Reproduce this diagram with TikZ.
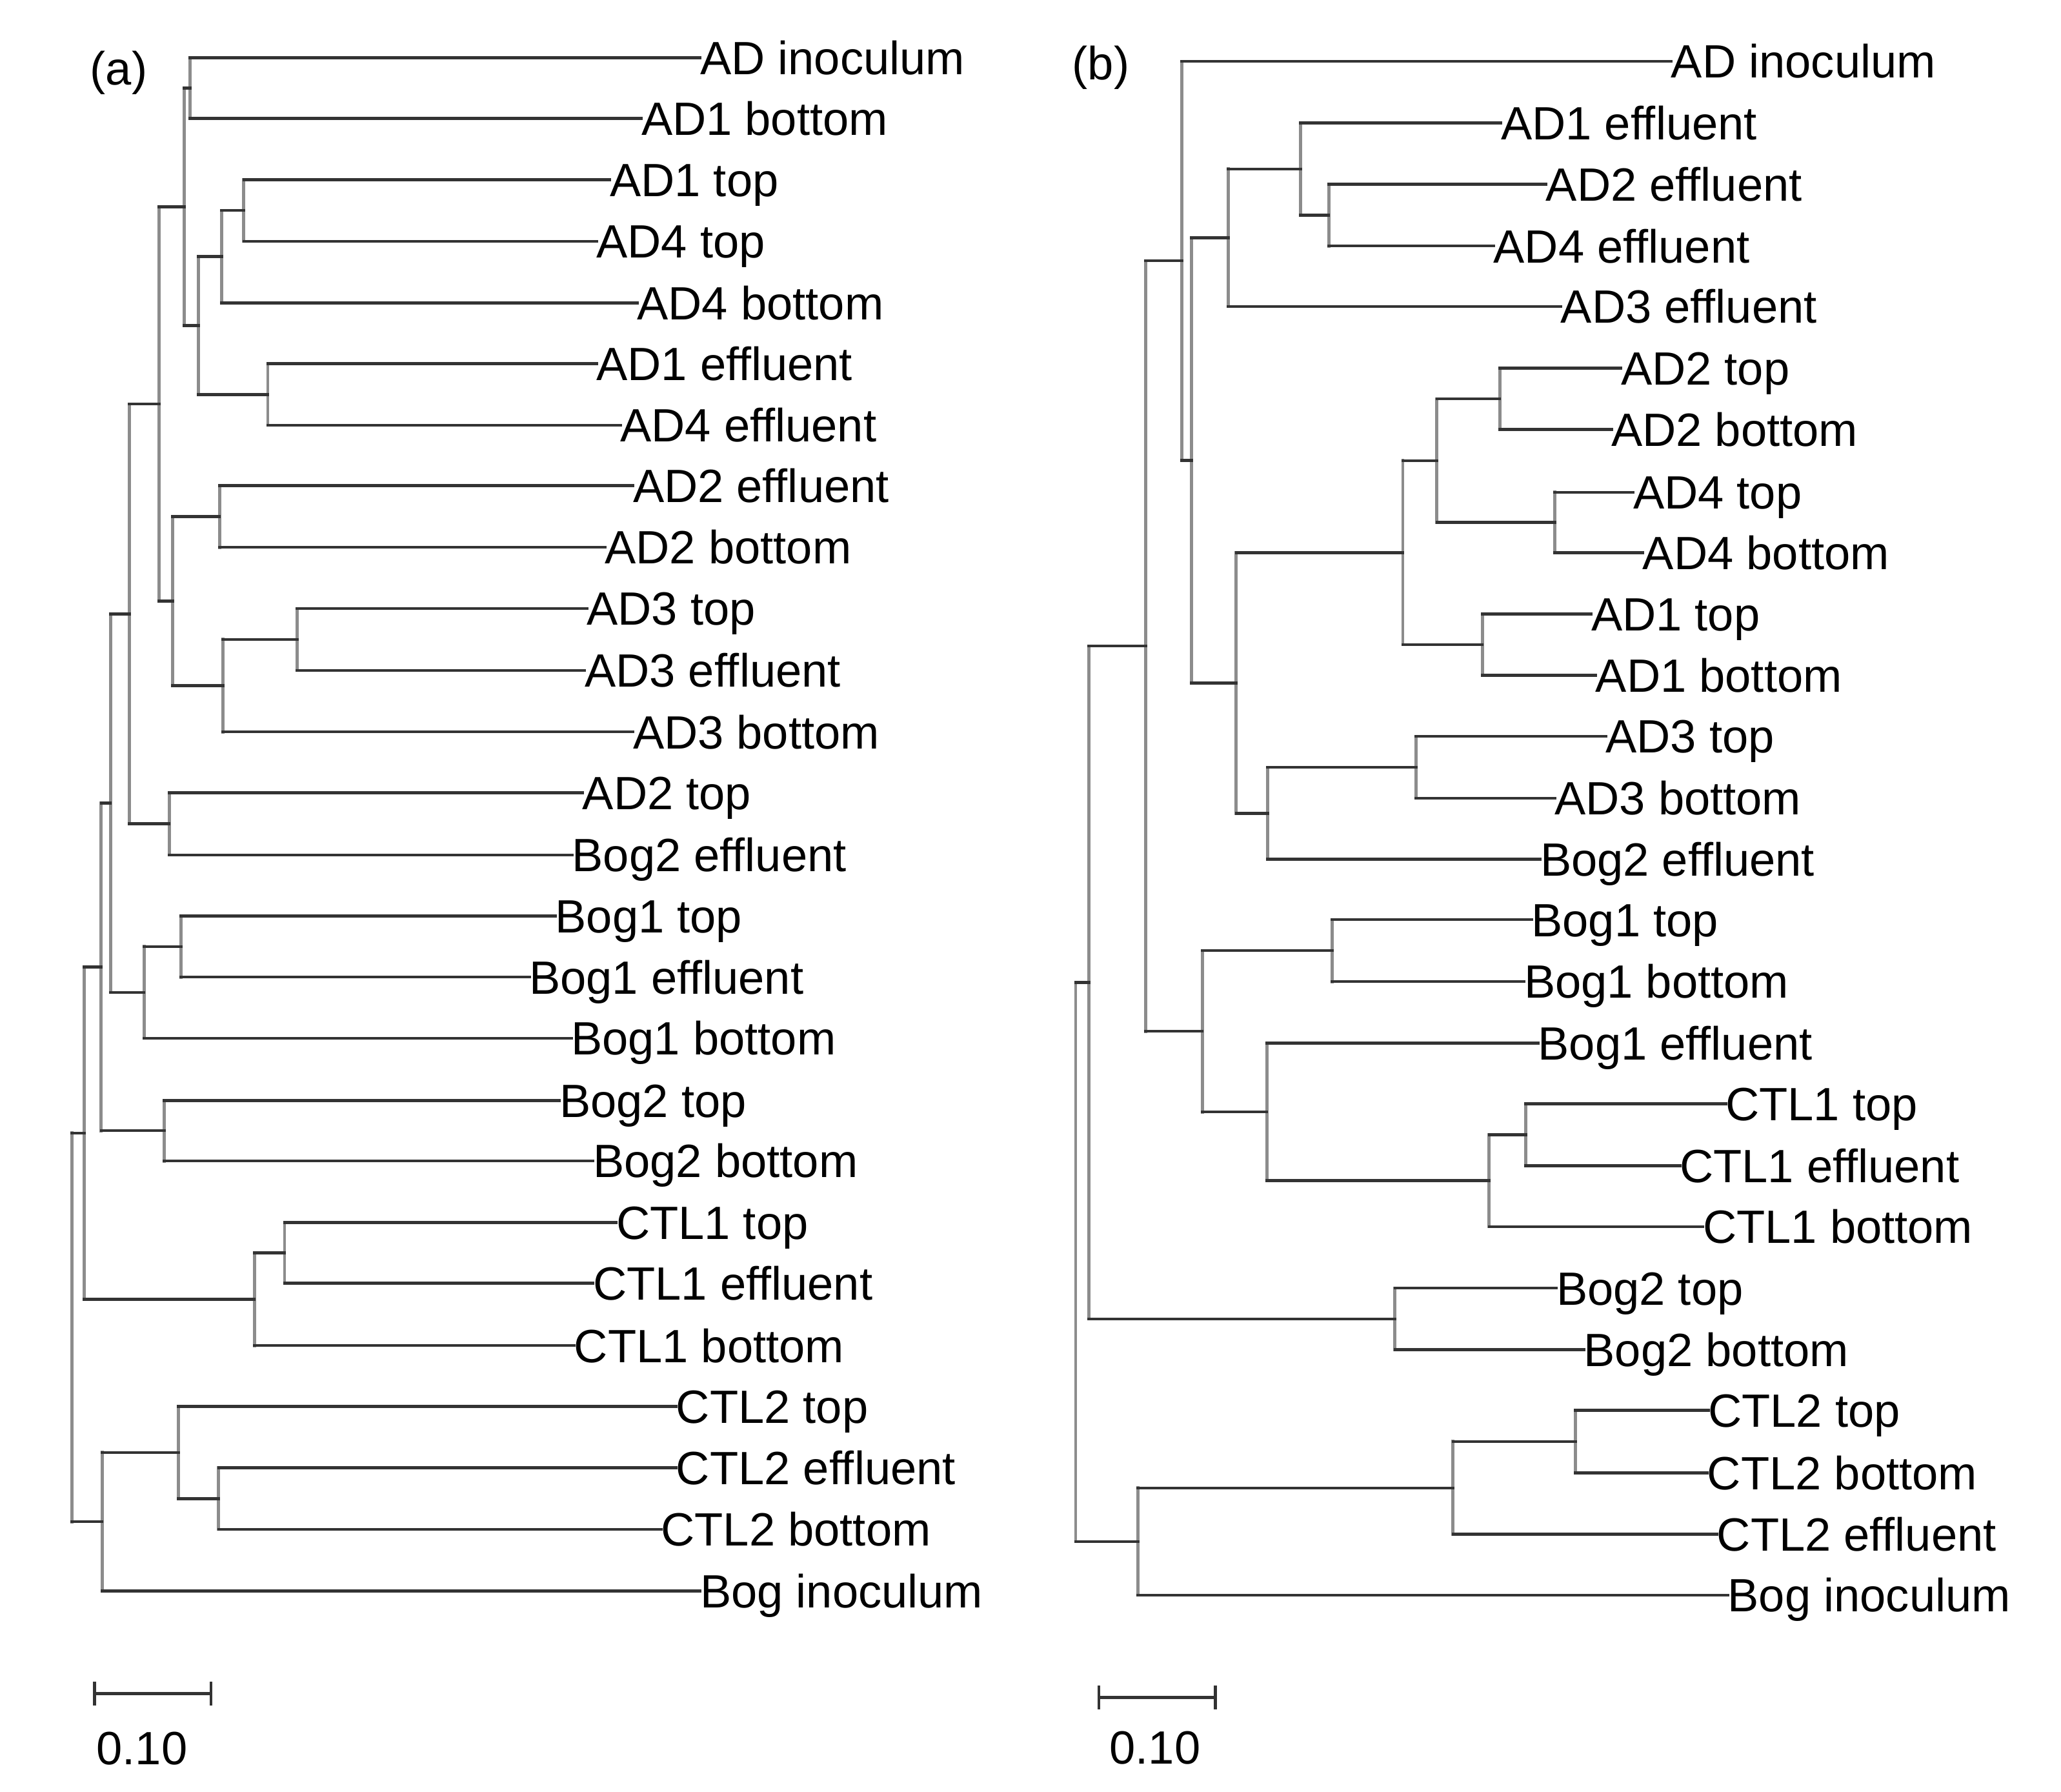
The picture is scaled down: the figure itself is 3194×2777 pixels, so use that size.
\documentclass[tikz,border=0pt]{standalone}
\usepackage{fontspec}
\setmainfont{Liberation Sans}
\tikzset{
  hl/.style={draw=black!80, line width=0.65pt, line cap=rect},
  vl/.style={draw=black!45, line width=0.7pt, line cap=rect},
  lab/.style={anchor=west, inner sep=0pt, outer sep=0pt, text height=7.37pt, text depth=0pt, font=\fontsize{10.3}{12}\selectfont},
  tag/.style={inner sep=0pt, outer sep=0pt, font=\fontsize{10.3}{12}\selectfont},
  pt/.style={inner sep=0pt, outer sep=0pt, minimum size=0pt},
}
\newcommand{\mkclade}[3]{%
  \draw[vl] (#1 |- #2.west) -- (#1 |- #3.west);
  \draw[hl] (#1 |- #2.west) -- (#2.west);
  \draw[hl] (#1 |- #3.west) -- (#3.west);
}
\begin{document}
\begin{tikzpicture}[x=0.005cm, y=-0.005cm]
\useasboundingbox (0,0) rectangle (3194,2777);

% ---------------- panel (a) ----------------
\node[tag] (taga) at (184,113) {(a)};
% leaves
\node[lab] (aADinoc) at (1085,89.4) {AD inoculum};
\node[lab] (aAD1b) at (994,183.7) {AD1 bottom};
\node[lab] (aAD1t) at (945.2,278.5) {AD1 top};
\node[lab] (aAD4t) at (924.3,373.9) {AD4 top};
\node[lab] (aAD4b) at (987.4,469.3) {AD4 bottom};
\node[lab] (aAD1e) at (924.3,563.6) {AD1 effluent};
\node[lab] (aAD4e) at (961.4,659) {AD4 effluent};
\node[lab] (aAD2e) at (981,752.7) {AD2 effluent};
\node[lab] (aAD2b) at (937.4,848.1) {AD2 bottom};
\node[lab] (aAD3t) at (909.4,943) {AD3 top};
\node[lab] (aAD3e) at (906.1,1038.9) {AD3 effluent};
\node[lab] (aAD3b) at (981,1134.2) {AD3 bottom};
\node[lab] (aAD2t) at (902.9,1228.3) {AD2 top};
\node[lab] (aBog2e) at (886.6,1324.8) {Bog2 effluent};
\node[lab] (aBog1t) at (860.6,1419.5) {Bog1 top};
\node[lab] (aBog1e) at (820.3,1514.2) {Bog1 effluent};
\node[lab] (aBog1b) at (885.3,1608.9) {Bog1 bottom};
\node[lab] (aBog2t) at (867.1,1705.3) {Bog2 top};
\node[lab] (aBog2b) at (919.2,1799.1) {Bog2 bottom};
\node[lab] (aCTL1t) at (955,1894.4) {CTL1 top};
\node[lab] (aCTL1e) at (919.2,1988.5) {CTL1 effluent};
\node[lab] (aCTL1b) at (889.9,2085.2) {CTL1 bottom};
\node[lab] (aCTL2t) at (1047.9,2179.3) {CTL2 top};
\node[lab] (aCTL2e) at (1047.9,2274.6) {CTL2 effluent};
\node[lab] (aCTL2b) at (1024.5,2370) {CTL2 bottom};
\node[lab] (aBoginoc) at (1085,2465.4) {Bog inoculum};
% internal nodes
\node[pt] (a1) at (294.7,136.55) {};
\node[pt] (a2) at (377.9,326.2) {};
\node[pt] (a3) at (343.5,397.75) {};
\node[pt] (a4) at (415,611.3) {};
\node[pt] (a5) at (307.7,504.5) {};
\node[pt] (a6) at (285.6,320.5) {};
\node[pt] (a7) at (340.2,800.4) {};
\node[pt] (a8) at (460.5,990.95) {};
\node[pt] (a9) at (345.4,1062.6) {};
\node[pt] (a10) at (267.3,931.5) {};
\node[pt] (a11) at (246.5,626) {};
\node[pt] (a12) at (262.1,1276.55) {};
\node[pt] (a13) at (200.3,951.3) {};
\node[pt] (a14) at (280.4,1466.85) {};
\node[pt] (a15) at (223.1,1537.9) {};
\node[pt] (a16) at (171.1,1244.6) {};
\node[pt] (a17) at (254.3,1752.2) {};
\node[pt] (a18) at (156.8,1498.4) {};
\node[pt] (a19) at (441,1941.45) {};
\node[pt] (a20) at (394.2,2013.3) {};
\node[pt] (a21) at (130.7,1755.9) {};
\node[pt] (a22) at (338.9,2322.3) {};
\node[pt] (a23) at (276.5,2250.8) {};
\node[pt] (a24) at (158.1,2358.1) {};
\node[pt] (aroot) at (111.2,2057) {};
% clades
\mkclade{a1}{aADinoc}{aAD1b}
\mkclade{a2}{aAD1t}{aAD4t}
\mkclade{a3}{a2}{aAD4b}
\mkclade{a4}{aAD1e}{aAD4e}
\mkclade{a5}{a3}{a4}
\mkclade{a6}{a1}{a5}
\mkclade{a7}{aAD2e}{aAD2b}
\mkclade{a8}{aAD3t}{aAD3e}
\mkclade{a9}{a8}{aAD3b}
\mkclade{a10}{a7}{a9}
\mkclade{a11}{a6}{a10}
\mkclade{a12}{aAD2t}{aBog2e}
\mkclade{a13}{a11}{a12}
\mkclade{a14}{aBog1t}{aBog1e}
\mkclade{a15}{a14}{aBog1b}
\mkclade{a16}{a13}{a15}
\mkclade{a17}{aBog2t}{aBog2b}
\mkclade{a18}{a16}{a17}
\mkclade{a19}{aCTL1t}{aCTL1e}
\mkclade{a20}{a19}{aCTL1b}
\mkclade{a21}{a18}{a20}
\mkclade{a22}{aCTL2e}{aCTL2b}
\mkclade{a23}{aCTL2t}{a22}
\mkclade{a24}{a23}{aBoginoc}
\mkclade{aroot}{a21}{a24}
% scale bar
\node[pt] (sa1) at (146.4,2624.3) {};
\node[pt] (sa2) at (327.2,2624.3) {};
\draw[hl] (sa1) -- (sa2);
\draw[hl] ([yshift=-16*0.005cm]sa1.center) -- ([yshift=16*0.005cm]sa1.center);
\draw[hl] ([yshift=-16*0.005cm]sa2.center) -- ([yshift=16*0.005cm]sa2.center);
\node[tag] (sat) at (220,2710) {0.10};

% ---------------- panel (b) ----------------
\node[tag] (tagb) at (1706,104.5) {(b)};
% leaves
\node[lab] (bADinoc) at (2589.8,95) {AD inoculum};
\node[lab] (bAD1e) at (2326.1,190.4) {AD1 effluent};
\node[lab] (bAD2e) at (2395.8,285.8) {AD2 effluent};
\node[lab] (bAD4e) at (2314.6,381.2) {AD4 effluent};
\node[lab] (bAD3e) at (2418.8,474.9) {AD3 effluent};
\node[lab] (bAD2t) at (2512,570.3) {AD2 top};
\node[lab] (bAD2b) at (2497.2,665.7) {AD2 bottom};
\node[lab] (bAD4t) at (2531,762.8) {AD4 top};
\node[lab] (bAD4b) at (2545.8,856.6) {AD4 bottom};
\node[lab] (bAD1t) at (2466.1,951.7) {AD1 top};
\node[lab] (bAD1b) at (2472.8,1046.4) {AD1 bottom};
\node[lab] (bAD3t) at (2488.4,1141.1) {AD3 top};
\node[lab] (bAD3b) at (2409.3,1236.9) {AD3 bottom};
\node[lab] (bBog2e) at (2387,1331.6) {Bog2 effluent};
\node[lab] (bBog1t) at (2373.5,1425.2) {Bog1 top};
\node[lab] (bBog1b) at (2362,1521.1) {Bog1 bottom};
\node[lab] (bBog1e) at (2383.6,1616.4) {Bog1 effluent};
\node[lab] (bCTL1t) at (2674.3,1710.5) {CTL1 top};
\node[lab] (bCTL1e) at (2603.3,1806.7) {CTL1 effluent};
\node[lab] (bCTL1b) at (2639.1,1900.8) {CTL1 bottom};
\node[lab] (bBog2t) at (2412,1996.2) {Bog2 top};
\node[lab] (bBog2b) at (2454.6,2091.5) {Bog2 bottom};
\node[lab] (bCTL2t) at (2647.2,2185.6) {CTL2 top};
\node[lab] (bCTL2b) at (2645.9,2282.3) {CTL2 bottom};
\node[lab] (bCTL2e) at (2660.8,2377.7) {CTL2 effluent};
\node[lab] (bBoginoc) at (2677.7,2471.8) {Bog inoculum};
% internal nodes
\node[pt] (b1) at (2059.1,333.5) {};
\node[pt] (b2) at (2015.2,261.95) {};
\node[pt] (b3) at (1903.6,368.4) {};
\node[pt] (b4) at (2324.1,618) {};
\node[pt] (b5) at (2409.3,809.7) {};
\node[pt] (b6) at (2226.8,713.85) {};
\node[pt] (b7) at (2297.1,999.05) {};
\node[pt] (b8) at (2174,856.45) {};
\node[pt] (b9) at (2194.3,1189) {};
\node[pt] (b10) at (1964.5,1260.3) {};
\node[pt] (b11) at (1915.8,1058.4) {};
\node[pt] (b12) at (1846.2,713.4) {};
\node[pt] (b13) at (1831.3,404.2) {};
\node[pt] (b14) at (2064.5,1473.15) {};
\node[pt] (b15) at (2364.7,1758.6) {};
\node[pt] (b16) at (2307.9,1829.7) {};
\node[pt] (b17) at (1963.1,1723.05) {};
\node[pt] (b18) at (1863.1,1598.1) {};
\node[pt] (b19) at (1775.2,1001.15) {};
\node[pt] (b20) at (2161.9,2043.85) {};
\node[pt] (b21) at (1687.3,1522.5) {};
\node[pt] (b22) at (2441.7,2233.95) {};
\node[pt] (b23) at (2251.8,2305.8) {};
\node[pt] (b24) at (1763.7,2388.8) {};
\node[pt] (broot) at (1667,1955.65) {};
% clades
\mkclade{b1}{bAD2e}{bAD4e}
\mkclade{b2}{bAD1e}{b1}
\mkclade{b3}{b2}{bAD3e}
\mkclade{b4}{bAD2t}{bAD2b}
\mkclade{b5}{bAD4t}{bAD4b}
\mkclade{b6}{b4}{b5}
\mkclade{b7}{bAD1t}{bAD1b}
\mkclade{b8}{b6}{b7}
\mkclade{b9}{bAD3t}{bAD3b}
\mkclade{b10}{b9}{bBog2e}
\mkclade{b11}{b8}{b10}
\mkclade{b12}{b3}{b11}
\mkclade{b13}{bADinoc}{b12}
\mkclade{b14}{bBog1t}{bBog1b}
\mkclade{b15}{bCTL1t}{bCTL1e}
\mkclade{b16}{b15}{bCTL1b}
\mkclade{b17}{bBog1e}{b16}
\mkclade{b18}{b14}{b17}
\mkclade{b19}{b13}{b18}
\mkclade{b20}{bBog2t}{bBog2b}
\mkclade{b21}{b19}{b20}
\mkclade{b22}{bCTL2t}{bCTL2b}
\mkclade{b23}{b22}{bCTL2e}
\mkclade{b24}{b23}{bBoginoc}
\mkclade{broot}{b21}{b24}
% scale bar
\node[pt] (sb1) at (1702.9,2630.7) {};
\node[pt] (sb2) at (1883.4,2630.7) {};
\draw[hl] (sb1) -- (sb2);
\draw[hl] ([yshift=-16*0.005cm]sb1.center) -- ([yshift=16*0.005cm]sb1.center);
\draw[hl] ([yshift=-16*0.005cm]sb2.center) -- ([yshift=16*0.005cm]sb2.center);
\node[tag] (sbt) at (1790,2709) {0.10};
\end{tikzpicture}
\end{document}
